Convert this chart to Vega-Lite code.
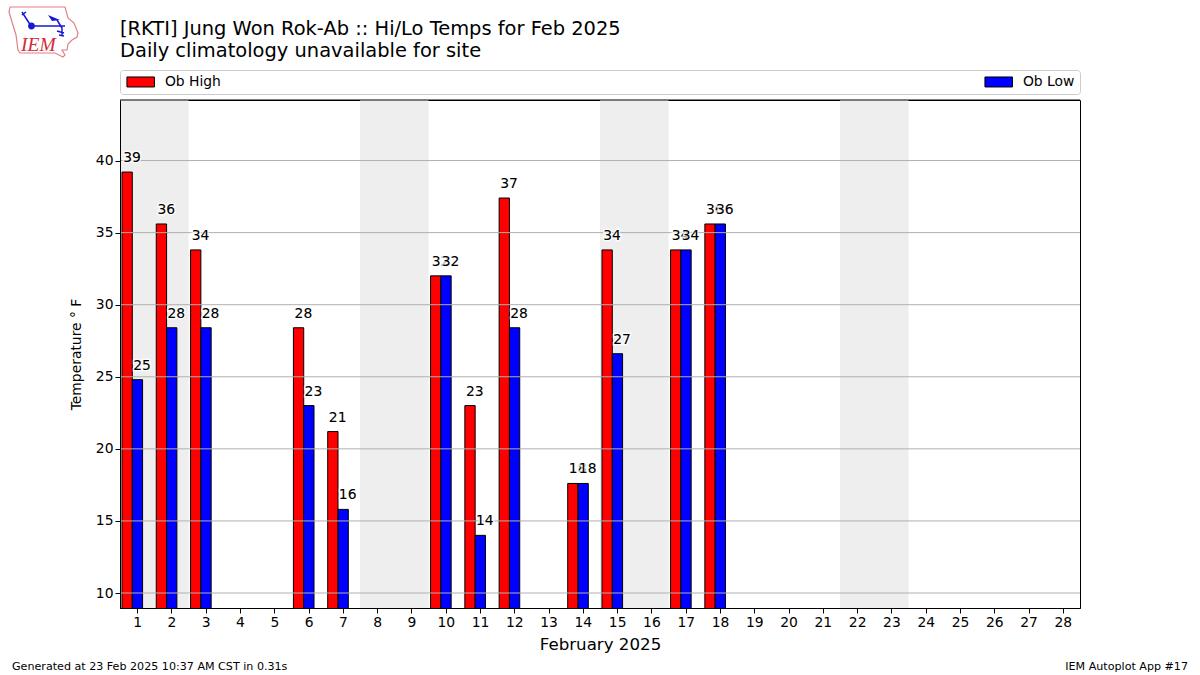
{
"$schema":"https://vega.github.io/schema/vega-lite/v6.json",
"width":960,"height":508,
"autosize":"none",
"padding":{"left":120,"top":100,"right":120,"bottom":67},
"background":"white",
"title":{"text":["[RKTI] Jung Won Rok-Ab :: Hi/Lo Temps for Feb 2025","Daily climatology unavailable for site"],"anchor":"start","frame":"group","font":"DejaVu Sans","fontSize":19.44,"fontWeight":"normal","color":"black","lineHeight":22,"offset":-57},
"config":{"view":{"stroke":"black","strokeWidth":1},"font":"DejaVu Sans"},
"datasets":{"temps":[
{"day":1,"series":"Ob High","temp":39.2},{"day":1,"series":"Ob Low","temp":24.8},
{"day":2,"series":"Ob High","temp":35.6},{"day":2,"series":"Ob Low","temp":28.4},
{"day":3,"series":"Ob High","temp":33.8},{"day":3,"series":"Ob Low","temp":28.4},
{"day":6,"series":"Ob High","temp":28.4},{"day":6,"series":"Ob Low","temp":23},
{"day":7,"series":"Ob High","temp":21.2},{"day":7,"series":"Ob Low","temp":15.8},
{"day":10,"series":"Ob High","temp":32},{"day":10,"series":"Ob Low","temp":32},
{"day":11,"series":"Ob High","temp":23},{"day":11,"series":"Ob Low","temp":14},
{"day":12,"series":"Ob High","temp":37.4},{"day":12,"series":"Ob Low","temp":28.4},
{"day":14,"series":"Ob High","temp":17.6},{"day":14,"series":"Ob Low","temp":17.6},
{"day":15,"series":"Ob High","temp":33.8},{"day":15,"series":"Ob Low","temp":26.6},
{"day":17,"series":"Ob High","temp":33.8},{"day":17,"series":"Ob Low","temp":33.8},
{"day":18,"series":"Ob High","temp":35.6},{"day":18,"series":"Ob Low","temp":35.6}
]},
"data":{"name":"temps"},
"encoding":{
"x":{"type":"quantitative","scale":{"domain":[0.5,28.5],"nice":false,"zero":false,"padding":0},"axis":{"values":[1,2,3,4,5,6,7,8,9,10,11,12,13,14,15,16,17,18,19,20,21,22,23,24,25,26,27,28],"title":"February 2025","titleFont":"DejaVu Sans","titleFontSize":16.67,"titleFontWeight":"normal","titleColor":"black","titlePadding":8,"labelFont":"DejaVu Sans","labelFontSize":13.89,"labelColor":"black","labelAngle":0,"labelOverlap":false,"labelFlush":false,"tickColor":"black","tickSize":5,"domainColor":"black","grid":false,"format":"d"}},
"y":{"type":"quantitative","scale":{"domain":[8.96,44.2],"nice":false,"zero":false},"axis":{"values":[10,15,20,25,30,35,40],"title":"Temperature ° F","titleFont":"DejaVu Sans","titleFontSize":13.89,"titleFontWeight":"normal","titleColor":"black","titlePadding":12,"labelFont":"DejaVu Sans","labelFontSize":13.89,"labelColor":"black","tickColor":"black","tickSize":5,"domainColor":"black","grid":false,"zindex":1,"format":"d"}}
},
"layer":[
{"data":{"values":[{"start":0.5,"end":2.5},{"start":7.5,"end":9.5},{"start":14.5,"end":16.5},{"start":21.5,"end":23.5}]},
 "mark":{"type":"rect","fill":"#eeeeee"},
 "encoding":{"x":{"field":"start","type":"quantitative"},"x2":{"field":"end"}}},
{"transform":[{"filter":"datum.series==='Ob High'"}],
 "mark":{"type":"bar","width":10.3,"xOffset":-10,"stroke":"black","strokeWidth":1,"clip":true},
 "encoding":{"x":{"field":"day"},"y":{"field":"temp"},
  "color":{"field":"series","type":"nominal","scale":{"domain":["Ob High","Ob Low"],"range":["#ff0000","#0000ff"]},
   "legend":{"orient":"none","legendX":0,"legendY":-30,"direction":"horizontal","columns":2,"title":null,"columnPadding":761,"padding":5,"strokeColor":"#cccccc","fillColor":"white","cornerRadius":3,"symbolType":"M-1,-1H4.5V1H-1Z","symbolSize":100,"symbolStrokeColor":"black","symbolStrokeWidth":1,"symbolOpacity":1,"labelOffset":26,"labelFont":"DejaVu Sans","labelFontSize":13.89,"labelColor":"black"}}}},
{"transform":[{"filter":"datum.series==='Ob Low'"}],
 "mark":{"type":"bar","width":10.3,"xOffset":0.3,"stroke":"black","strokeWidth":1,"clip":true},
 "encoding":{"x":{"field":"day"},"y":{"field":"temp"},"color":{"field":"series","type":"nominal"}}},
{"data":{"values":[{"level":10},{"level":15},{"level":20},{"level":25},{"level":30},{"level":35},{"level":40}]},
 "mark":{"type":"rule","stroke":"#b0b0b0","strokeWidth":1},
 "encoding":{"x":null,"y":{"field":"level","type":"quantitative"}}},
{"data":{"values":[{"edge":44.2}]},
 "mark":{"type":"rule","stroke":"black","strokeWidth":1,"clip":false},
 "encoding":{"x":null,"y":{"field":"edge","type":"quantitative"}}},
{"transform":[{"filter":"datum.series==='Ob High'"}],
 "mark":{"type":"text","align":"left","baseline":"bottom","dx":-14,"dy":-7,"fontSize":13.89,"font":"DejaVu Sans","stroke":"white","strokeWidth":3,"strokeOpacity":0.8},
 "encoding":{"x":{"field":"day"},"y":{"field":"temp"},"text":{"field":"temp","type":"quantitative","format":".0f"}}},
{"transform":[{"filter":"datum.series==='Ob High'"}],
 "mark":{"type":"text","align":"left","baseline":"bottom","dx":-14,"dy":-7,"fontSize":13.89,"font":"DejaVu Sans","fill":"black"},
 "encoding":{"x":{"field":"day"},"y":{"field":"temp"},"text":{"field":"temp","type":"quantitative","format":".0f"}}},
{"transform":[{"filter":"datum.series==='Ob Low'"}],
 "mark":{"type":"text","align":"left","baseline":"bottom","dx":-4,"dy":-7,"fontSize":13.89,"font":"DejaVu Sans","stroke":"white","strokeWidth":3,"strokeOpacity":0.8},
 "encoding":{"x":{"field":"day"},"y":{"field":"temp"},"text":{"field":"temp","type":"quantitative","format":".0f"}}},
{"transform":[{"filter":"datum.series==='Ob Low'"}],
 "mark":{"type":"text","align":"left","baseline":"bottom","dx":-4,"dy":-7,"fontSize":13.89,"font":"DejaVu Sans","fill":"black"},
 "encoding":{"x":{"field":"day"},"y":{"field":"temp"},"text":{"field":"temp","type":"quantitative","format":".0f"}}},
{"data":{"values":[{"note":"Generated at 23 Feb 2025 10:37 AM CST in 0.31s"}]},
 "mark":{"type":"text","align":"left","baseline":"middle","dx":-108,"dy":59,"fontSize":11.11,"font":"DejaVu Sans","fill":"black"},
 "encoding":{"x":{"datum":0.5},"y":{"datum":8.96},"text":{"field":"note"}}},
{"data":{"values":[{"note":"IEM Autoplot App #17"}]},
 "mark":{"type":"text","align":"right","baseline":"middle","dx":108,"dy":59,"fontSize":11.11,"font":"DejaVu Sans","fill":"black"},
 "encoding":{"x":{"datum":28.5},"y":{"datum":8.96},"text":{"field":"note"}}},
{"data":{"values":[{"logo":"outline"}]},
 "mark":{"type":"point","shape":"M-34,-23H21L24,-12L30,-7L34,3L33,7L28,10L24,14L23,20L18,20L21,25L19,27L11,23H-24L-26,20L-28,5L-32,-8L-35,-18Z","size":4,"filled":false,"stroke":"#e08088","strokeWidth":1.2,"opacity":1,"xOffset":-76,"yOffset":-70,"clip":false},
 "encoding":{"x":{"datum":0.5},"y":{"datum":44.2}}},
{"data":{"values":[{"logo":"wind"}]},
 "mark":{"type":"point","shape":"M-13,-4H21M-22,-18L-13,-4M-18,-18L-22,-15M13,-10L18,-2V5M13,1L20,3M15,5L20,6","size":4,"filled":false,"stroke":"#1818d0","strokeWidth":1.5,"opacity":1,"xOffset":-76,"yOffset":-70,"clip":false},
 "encoding":{"x":{"datum":0.5},"y":{"datum":44.2}}},
{"data":{"values":[{"logo":"hub"}]},
 "mark":{"type":"point","shape":"M-16,-4a3.5,3.5 0 1,0 7,0a3.5,3.5 0 1,0 -7,0ZM4,-15L16,-10L8,-9Z","size":4,"filled":true,"fill":"#1818d0","opacity":1,"xOffset":-76,"yOffset":-70,"clip":false},
 "encoding":{"x":{"datum":0.5},"y":{"datum":44.2}}},
{"data":{"values":[{"logo":"IEM"}]},
 "mark":{"type":"text","align":"left","baseline":"alphabetic","dx":-99,"dy":-49,"font":"Liberation Serif","fontStyle":"italic","fontSize":19.5,"fill":"#d42a3a"},
 "encoding":{"x":{"datum":0.5},"y":{"datum":44.2},"text":{"field":"logo"}}}
]
}
